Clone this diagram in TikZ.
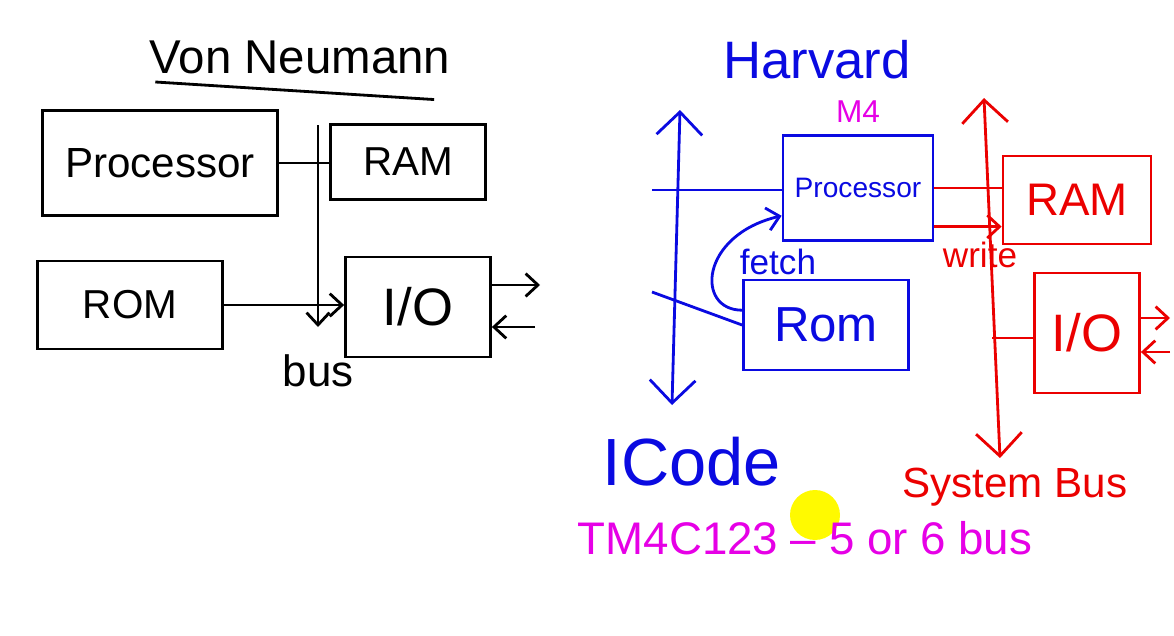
\documentclass[tikz,border=0pt]{standalone}
\usepackage{fontspec}
\setmainfont{Liberation Sans}
\usetikzlibrary{
	positioning		% Allows above=of style placement of labels
	, arrows.meta		% Open barbed arrow heads
	, calc
}
\definecolor{penblue}{RGB}{10,10,225}
\definecolor{penred}{RGB}{235,0,0}
\definecolor{penmagenta}{RGB}{230,0,230}
\definecolor{penyellow}{RGB}{255,250,0}

\begin{document}
\begin{tikzpicture}[x=0.02cm, y=-0.02cm
		, line width=1.6pt
		, box/.style={draw, rectangle, line width=1.6pt, inner sep=0pt}
		, hand/.style={inner sep=0pt, font=\fontsize{#1}{#1}\selectfont}
		, tip/.style={-{Straight Barb[length=7pt, width=13pt]}}
		, bigtips/.style={{Straight Barb[length=13pt, width=26pt]}-{Straight Barb[length=13pt, width=26pt]}}]

		\useasboundingbox (0,0) rectangle (1174,636);

		%%% Von Neumann
		\node[hand=27] (vntitle) at (300,57) {Von Neumann};
		\draw ([xshift=4pt, yshift=-4pt]vntitle.south west) -- ([xshift=-10pt, yshift=-14pt]vntitle.south east);

		%% Components
		\node[box, hand=24, minimum width=4.7cm, minimum height=2.1cm] (vnproc) at (160,163) {Processor};
		\node[box, hand=23, minimum width=3.1cm, minimum height=1.5cm] (vnram) at (408,162) {RAM};
		\node[box, hand=23, minimum width=3.7cm, minimum height=1.76cm] (vnrom) at (130,305) {ROM};
		\node[box, hand=30, minimum width=2.9cm, minimum height=2cm] (vnio) at (418,307) {I/O};

		%% Bus
		\coordinate (vnbustop) at (318,125);
		\coordinate (vnbusbot) at (318,327);
		\draw[tip] (vnbustop) -- (vnbusbot);
		\node[hand=25, below=15pt of vnbusbot] (vnbuslabel) {bus};

		%% Connections
		\draw (vnproc.east) -- (vnproc.east -| vnram.west);
		\draw[tip] (vnrom.east) -- (vnrom.east -| vnio.west);
		\coordinate (vnout) at (540,285);
		\coordinate (vnin) at (535,327);
		\draw[tip] (vnout -| vnio.east) -- (vnout);
		\draw[tip] (vnin) -- (vnin -| vnio.east);

		%%% Harvard
		\node[hand=30, penblue] (hvtitle) at (817,60) {Harvard};

		%% Components
		\node[box, penblue, hand=16, minimum width=3cm, minimum height=2.1cm] (hvproc) at (858,188) {Processor};
		\node[hand=18, penmagenta, above=6pt of hvproc] (hvcore) {M4};
		\node[box, penblue, hand=28, minimum width=3.3cm, minimum height=1.8cm] (hvrom) at (826,325) {Rom};
		\node[box, penred, hand=26, minimum width=2.96cm, minimum height=1.76cm] (hvram) at (1077,200) {RAM};
		\node[box, penred, hand=30, minimum width=2.1cm, minimum height=2.4cm] (hvio) at (1087,333) {I/O};

		%% ICode bus
		\coordinate (icodetop) at (680,110);
		\coordinate (icodebot) at (672,405);
		\draw[penblue, bigtips] (icodetop) -- (icodebot);
		\coordinate (icodeproc) at (652,190);
		\coordinate (icoderom) at (652,292);
		\draw[penblue] (icodeproc) -- (icodeproc -| hvproc.west);
		\draw[penblue] (icoderom) -- (hvrom.west);
		\node[hand=38, penblue] (icodelabel) at (692,462) {ICode};

		%% Fetch
		\draw[penblue, tip] (hvrom.170) .. controls (695,310) and (700,235) .. (hvproc.200);
		\node[hand=20, penblue] (fetchlabel) at (778,262) {fetch};

		%% System bus
		\coordinate (systop) at (984,98);
		\coordinate (sysbot) at (1000,458);
		\draw[penred, bigtips] (systop) -- (sysbot);
		\node[hand=24, penred] (syslabel) at (1015,487) {System Bus};

		\draw[penred] (hvproc.east) -- (hvproc.east -| hvram.west);
		\coordinate (writefrom) at ([yshift=-22pt]hvproc.east);
		\draw[penred, tip] (writefrom) -- (writefrom -| hvram.west);
		\node[hand=20, penred] (writelabel) at (980,255) {write};

		\coordinate (sysio) at (992,338);
		\draw[penred] (sysio) -- (sysio -| hvio.west);
		\coordinate (hvout) at (1170,318);
		\coordinate (hvin) at (1170,352);
		\draw[penred, tip] (hvout -| hvio.east) -- (hvout);
		\draw[penred, tip] (hvin) -- (hvin -| hvio.east);

		%%% Part note
		\node[circle, fill=penyellow, minimum size=1cm, inner sep=0pt] (pointer) at (815,515) {};
		\node[hand=26, penmagenta] (partlabel) at (805,538) {TM4C123 -- 5 or 6 bus};
	\end{tikzpicture}
\end{document}
